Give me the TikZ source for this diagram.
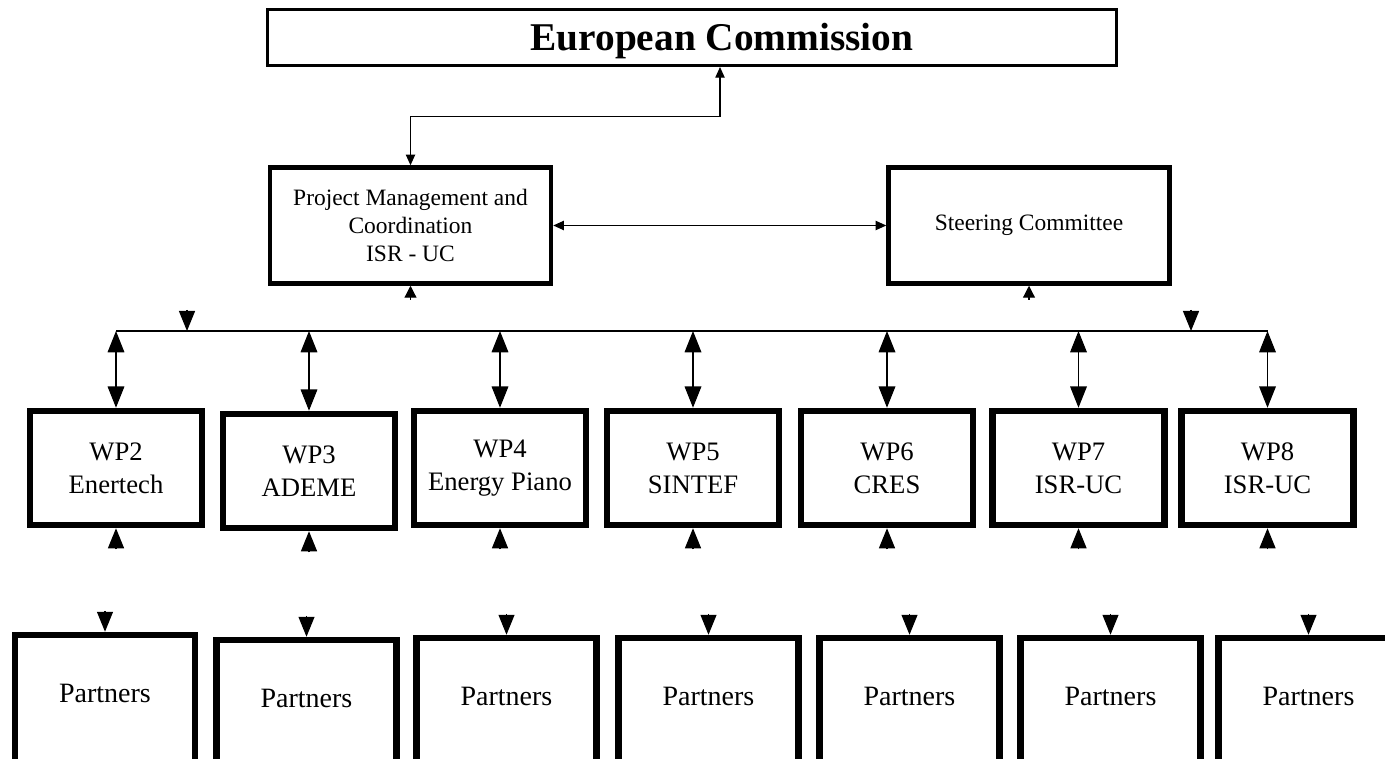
\documentclass[tikz,border=0pt]{standalone}
\usepackage{fontspec}
\setmainfont{Liberation Serif}
\usetikzlibrary{arrows.meta,positioning,calc}
\newdimen\pxu
\pxu=0.75pt

\begin{document}
\begin{tikzpicture}[
	    x=0.75pt, y=-0.75pt,
	    ecbox/.style={rectangle, draw, line width=3\pxu, minimum width=849\pxu, minimum height=56\pxu, inner sep=0},
	    ectext/.style={font=\fontsize{29.5}{34}\selectfont\bfseries},
	    mgmtbox/.style={rectangle, draw, line width=4.5\pxu, minimum width=281\pxu, minimum height=116\pxu, align=center, inner sep=0, font=\fontsize{17.6}{21}\selectfont},
	    wpbox/.style={rectangle, draw, line width=6.5\pxu, minimum width=172\pxu, minimum height=114\pxu, align=center, inner sep=0, font=\fontsize{20}{24.75}\selectfont},
	    partnerbox/.style={rectangle, draw, line width=6.5\pxu, minimum width=180\pxu, minimum height=130\pxu, inner sep=0, text depth=14\pxu, font=\fontsize{21}{25}\selectfont},
	    normalline/.style={line width=1.2\pxu, draw=black},
	    smallarrows/.style={normalline, {Triangle[length=8pt,width=7pt]}-{Triangle[length=8pt,width=7pt]}},
	    bigarrows/.style={normalline, {Triangle[length=16pt,width=12.5pt]}-{Triangle[length=16pt,width=12.5pt]}},
	    smallhead/.style={normalline, -{Triangle[length=9pt,width=9pt]}},
	    bighead/.style={normalline, -{Triangle[length=15pt,width=12pt]}},
	]
	\path[use as bounding box, fill=white] (0,0) rectangle (1385,759);

	% Commission and management
    \node[ecbox, label={[ectext, xshift=30\pxu, yshift=-4\pxu]center:European Commission}] (ec) at (692,37.5) {};
    \node[mgmtbox] (pmc) at (410.5,225.5) {Project Management and\\Coordination\\ISR - UC};
    \node[mgmtbox] (sc) at (1029,225.5) {Steering Committee};

    % Work packages
    \node[wpbox] (wp2) at (116,468) {WP2\\Enertech};
    \node[wpbox] (wp3) at (309,471) {WP3\\ADEME};
    \node[wpbox] (wp4) at (500,468) {WP4\\Energy Piano};
    \node[wpbox] (wp5) at (693,468) {WP5\\SINTEF};
    \node[wpbox] (wp6) at (887,468) {WP6\\CRES};
    \node[wpbox] (wp7) at (1078.5,468) {WP7\\ISR-UC};
    \node[wpbox] (wp8) at (1267.5,468) {WP8\\ISR-UC};

    % Partners
    \node[partnerbox] (p2) at (105,700) {Partners};
    \node[partnerbox] (p3) at (306.5,705) {Partners};
    \node[partnerbox] (p4) at (506.5,703) {Partners};
    \node[partnerbox] (p5) at (708.5,703) {Partners};
    \node[partnerbox] (p6) at (909.5,703) {Partners};
    \node[partnerbox] (p7) at (1110.5,703) {Partners};
    \node[partnerbox] (p8) at (1308.5,703) {Partners};

    % connection lines
    \coordinate (ecin) at ([xshift=28\pxu]ec.south);
    \draw [smallarrows] (pmc.north) |- ($(pmc.north)!.5!(ecin)$) -| (ecin);
    \draw [smallarrows] (pmc) -- (sc);
    \draw [smallhead] (pmc.south) ++(0,14) -- (pmc.south);
    \draw [smallhead] (sc.south) ++(0,14) -- (sc.south);

    % bus
    \coordinate (busleft) at (116,331);
    \coordinate (busright) at (1267.5,331);
    \coordinate (pmcfeed) at (187,331);
    \coordinate (scfeed) at (1191,331);
    \draw [normalline] (busleft) -- (busright);
    \draw [bighead] (pmcfeed) ++(0,-21) -- (pmcfeed);
    \draw [bighead] (scfeed) ++(0,-21) -- (scfeed);

    \draw [bigarrows] (wp2.north |- busleft) -- (wp2.north);
    \draw [bigarrows] (wp3.north |- busleft) -- (wp3.north);
    \draw [bigarrows] (wp4.north |- busleft) -- (wp4.north);
    \draw [bigarrows] (wp5.north |- busleft) -- (wp5.north);
    \draw [bigarrows] (wp6.north |- busleft) -- (wp6.north);
    \draw [bigarrows] (wp7.north |- busleft) -- (wp7.north);
    \draw [bigarrows] (wp8.north |- busleft) -- (wp8.north);

    % WP to partners
    \draw [bighead] (wp2.south) ++(0,21) -- (wp2.south);
    \draw [bighead] (wp3.south) ++(0,21) -- (wp3.south);
    \draw [bighead] (wp4.south) ++(0,21) -- (wp4.south);
    \draw [bighead] (wp5.south) ++(0,21) -- (wp5.south);
    \draw [bighead] (wp6.south) ++(0,21) -- (wp6.south);
    \draw [bighead] (wp7.south) ++(0,21) -- (wp7.south);
    \draw [bighead] (wp8.south) ++(0,21) -- (wp8.south);

    \draw [bighead] (p2.north) ++(0,-21) -- (p2.north);
    \draw [bighead] (p3.north) ++(0,-21) -- (p3.north);
    \draw [bighead] (p4.north) ++(0,-21) -- (p4.north);
    \draw [bighead] (p5.north) ++(0,-21) -- (p5.north);
    \draw [bighead] (p6.north) ++(0,-21) -- (p6.north);
    \draw [bighead] (p7.north) ++(0,-21) -- (p7.north);
    \draw [bighead] (p8.north) ++(0,-21) -- (p8.north);

	\end{tikzpicture}
\end{document}
